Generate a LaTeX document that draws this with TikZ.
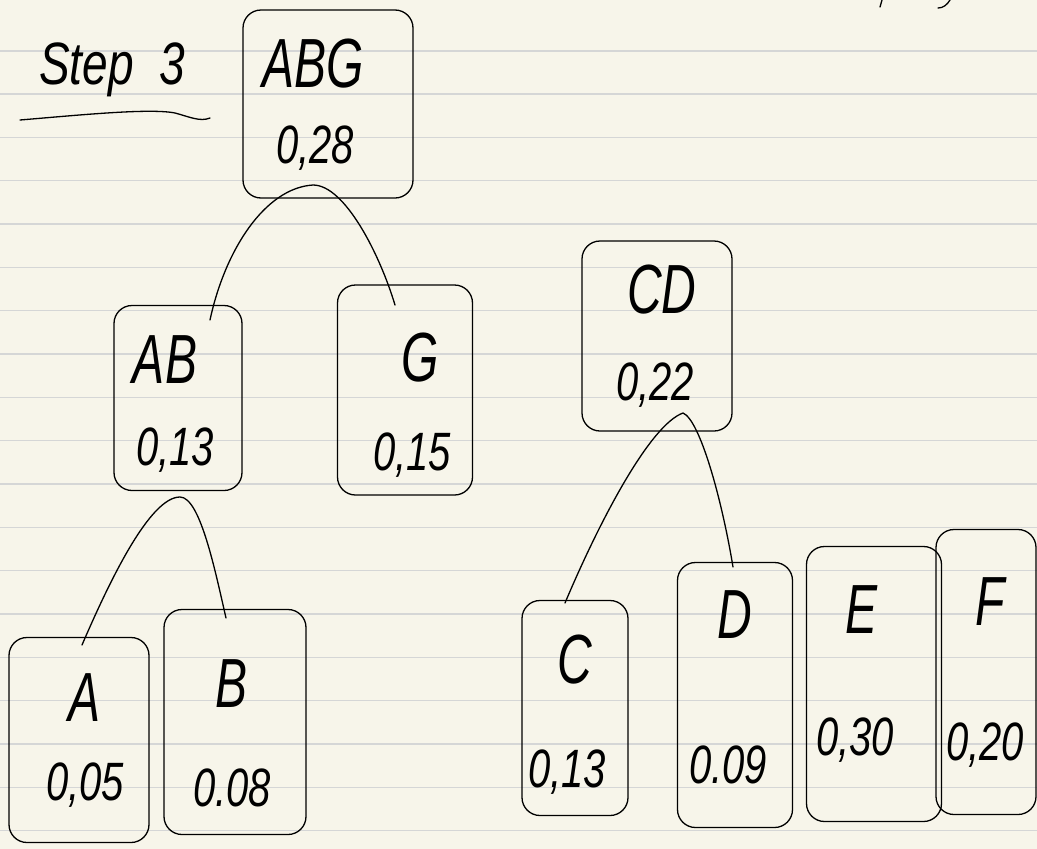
\documentclass[tikz,border=0pt]{standalone}
\usepackage{fontspec}
\setmainfont{Liberation Sans}
\newcommand{\tallL}[1]{\scalebox{1}[1.45]{#1}}
\newcommand{\tallV}[1]{\scalebox{1}[1.35]{#1}}
\begin{document}
\begin{tikzpicture}[x=1pt,y=-1pt,
  ink/.style={line width=1.3pt,black,line cap=round,line join=round},
  box/.style={ink,draw,rounded corners=18pt,inner sep=0pt},
  letter/.style={font=\fontsize{48}{48}\selectfont\itshape,inner sep=0pt},
  value/.style={font=\fontsize{40}{40}\selectfont\itshape,inner sep=0pt},
  ruled/.style={line width=1.6pt,color=ruleclr}]
\definecolor{paper}{HTML}{F7F5EA}
\definecolor{ruleclr}{HTML}{D5D6D6}
\fill[paper] (0,0) rectangle (1037,849);
\useasboundingbox (0,0) rectangle (1037,849);
\foreach \k in {0,...,18} \draw[ruled] (0,{50.7+43.33*\k}) -- (1037,{50.7+43.33*\k});

% title
\node[font=\fontsize{46}{46}\selectfont\itshape,inner sep=0pt] (title) at (112,70) {\scalebox{1}[1.3]{Step\ \ 3}};
\draw[ink] (20,120) .. controls (80,115) and (150,108) .. (175,113) .. controls (190,117) and (200,122) .. (210,118);

% boxes
\node[box,minimum width=170pt,minimum height=188pt] (ABG) at (328,104) {};
\node[box,minimum width=128pt,minimum height=185pt] (AB) at (178,398) {};
\node[box,minimum width=135pt,minimum height=210pt] (G) at (405,390) {};
\node[box,minimum width=150pt,minimum height=190pt] (CD) at (657,336) {};
\node[box,minimum width=140pt,minimum height=205pt] (A) at (79,740) {};
\node[box,minimum width=142pt,minimum height=225pt] (B) at (235,722) {};
\node[box,minimum width=106pt,minimum height=215pt] (C) at (575,708) {};
\node[box,minimum width=115pt,minimum height=265pt] (D) at (735,695) {};
\node[box,minimum width=135pt,minimum height=275pt] (E) at (874,684) {};
\node[box,minimum width=100pt,minimum height=285pt] (F) at (986,672) {};

% labels
\node[letter] (ABGl) at (313,64) {\tallL{ABG}};
\node[value] (ABGv) at (315,148) {\tallV{0,28}};
\node[letter] (ABl) at (165,360) {\tallL{AB}};
\node[value] (ABv) at (175,450) {\tallV{0,13}};
\node[letter] (Gl) at (420,358) {\tallL{G}};
\node[value] (Gv) at (412,455) {\tallV{0,15}};
\node[letter] (CDl) at (662,290) {\tallL{CD}};
\node[value] (CDv) at (655,385) {\tallV{0,22}};
\node[letter] (Al) at (85,698) {\tallL{A}};
\node[value] (Av) at (85,785) {\tallV{0,05}};
\node[letter] (Bl) at (232,684) {\tallL{B}};
\node[value] (Bv) at (232,788) {\tallV{0.08}};
\node[letter] (Cl) at (575,660) {\tallL{C}};
\node[value] (Cv) at (567,772) {\tallV{0,13}};
\node[letter] (Dl) at (735,615) {\tallL{D}};
\node[value] (Dv) at (728,765) {\tallV{0.09}};
\node[letter] (El) at (862,610) {\tallL{E}};
\node[value] (Ev) at (855,740) {\tallV{0,30}};
\node[letter] (Fl) at (990,602) {\tallL{F}};
\node[value] (Fv) at (985,745) {\tallV{0,20}};

% connector ends
\coordinate (abgTop) at (313,185);
\coordinate (abEnd) at (210,320);
\coordinate (gEnd) at (395,305);
\coordinate (abTop) at (180,497);
\coordinate (aEnd) at (82,645);
\coordinate (bEnd) at (226,618);
\coordinate (cdTop) at (683,413);
\coordinate (cEnd) at (565,603);
\coordinate (dEnd) at (733,567);

\draw[ink] (abEnd) .. controls (225,250) and (265,188) .. (abgTop) .. controls (345,185) and (380,255) .. (gEnd);
\draw[ink] (aEnd) .. controls (110,580) and (150,497) .. (abTop) .. controls (200,497) and (215,570) .. (bEnd);
\draw[ink] (cEnd) .. controls (600,520) and (650,425) .. (cdTop) .. controls (700,420) and (722,500) .. (dEnd);

% cropped strokes at top right
\draw[ink] (882,0) -- (880,7);
\draw[ink] (950,0) .. controls (947,5) and (943,8) .. (938,8);
\end{tikzpicture}
\end{document}
